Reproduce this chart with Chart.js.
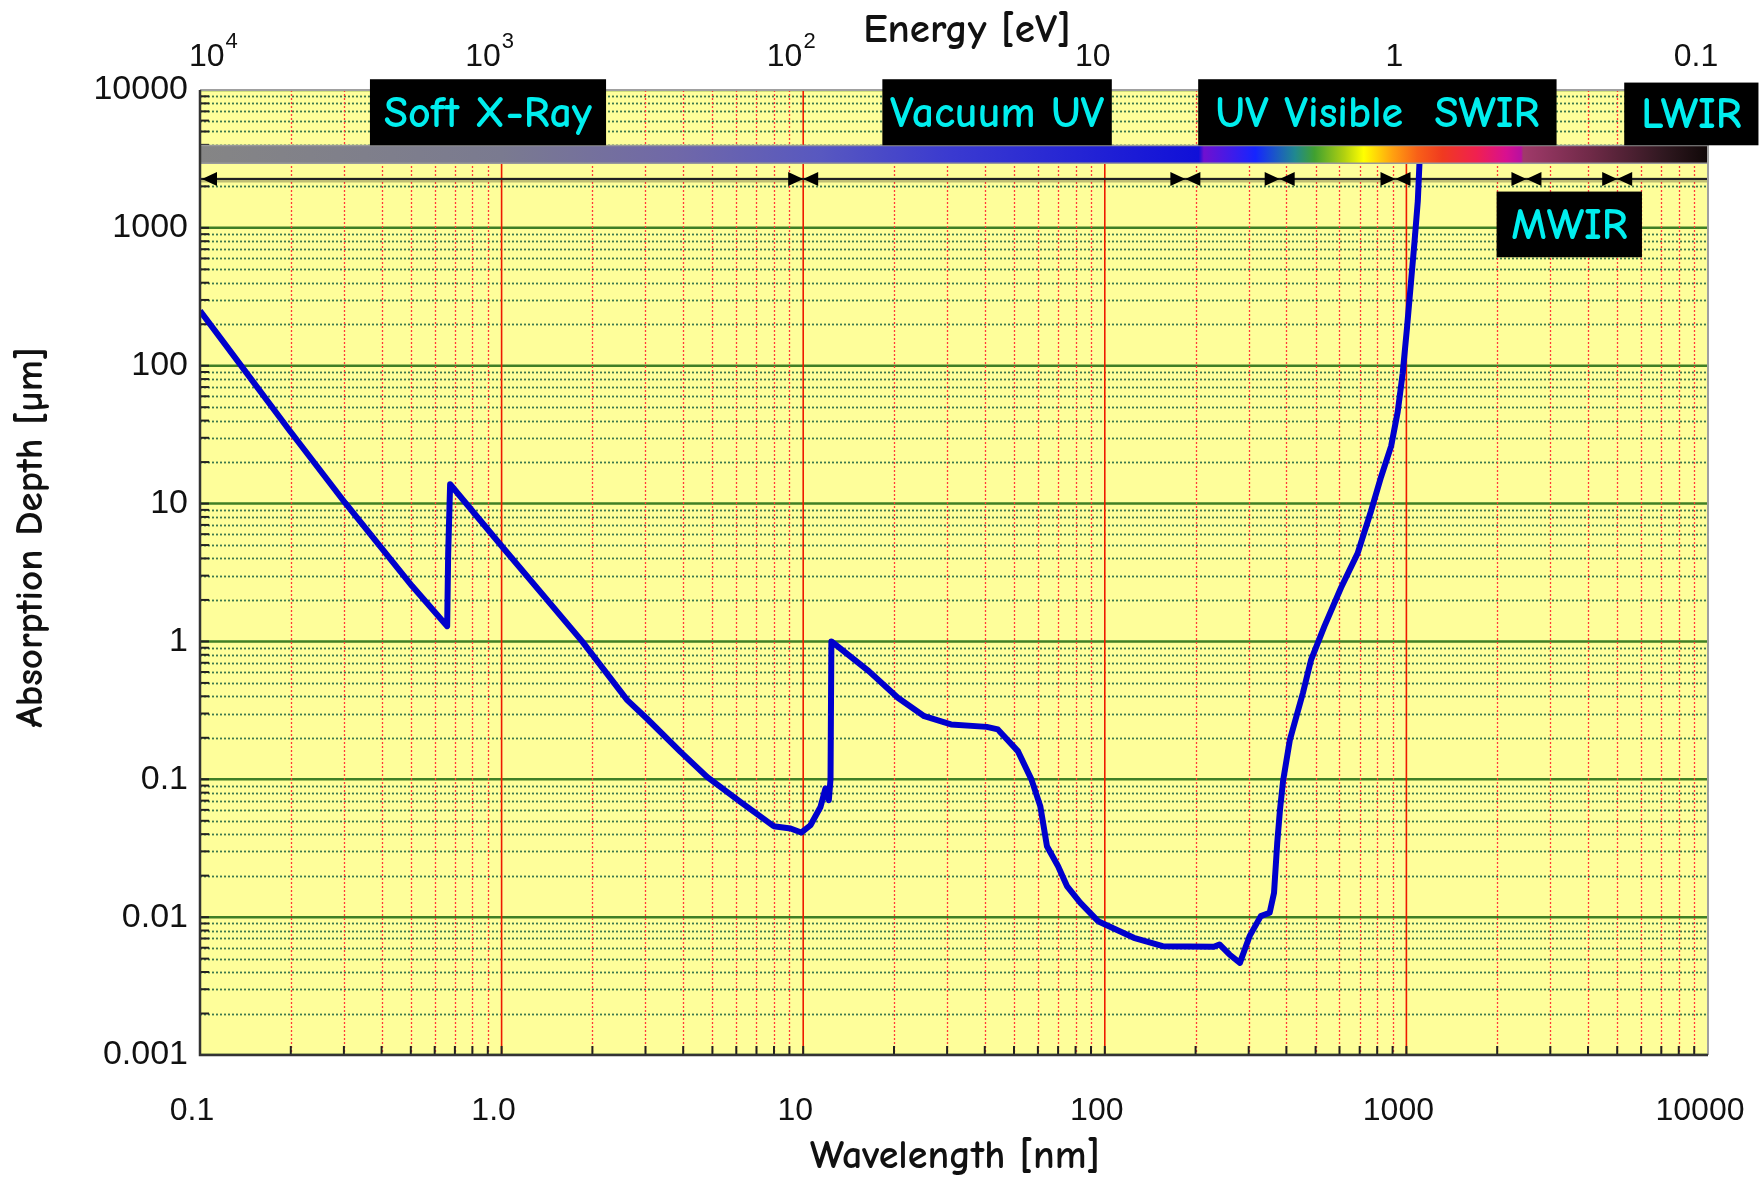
<!DOCTYPE html>
<html lang="en">
<head>
<meta charset="UTF-8">
<title>Silicon absorption depth</title>
<script src="https://cdn.jsdelivr.net/npm/chart.js@4"></script>
<style>
html, body { margin: 0; padding: 0; background: #fff; }
#wrap { width: 1763px; height: 1181px; }
</style>
</head>
<body>
<div id="wrap"><canvas id="depthChart" width="1763" height="1181"></canvas></div>
<script>
// absorption depth curve
const wavelengthNm = [0.1, 0.12, 0.197, 0.303, 0.505, 0.66, 0.665, 0.675,
  1.0, 1.85, 2.61, 3.03, 3.92, 4.80, 6.19, 7.98, 9.08, 9.85,
  10.57, 11.41, 11.85, 12.16, 12.32, 12.4,
  16.5, 20.6, 25.2, 30.9, 40.6, 44.2, 51.5, 57.1, 61.1, 64.3,
  70, 74.9, 83, 95, 124.8, 155.6, 230, 240, 259, 280.5,
  302, 329, 352, 364, 373, 381, 390, 411, 454, 483,
  535, 607, 689, 763, 824, 890, 936, 972, 1005, 1036,
  1063, 1091, 1105, 1112];
const depthUm = [250, 147, 34.5, 10.1, 2.52, 1.29, 4.3, 13.8,
  4.92, 1.0, 0.375, 0.276, 0.158, 0.104, 0.0685, 0.0457, 0.044, 0.0411,
  0.0464, 0.063, 0.0858, 0.0705, 0.1, 1.0,
  0.609, 0.390, 0.287, 0.250, 0.240, 0.230, 0.160, 0.0998, 0.0639, 0.0327,
  0.0234, 0.0168, 0.0127, 0.00935, 0.00708, 0.00616, 0.0061, 0.00634, 0.00536, 0.00466,
  0.00728, 0.01017, 0.01075, 0.0150, 0.0346, 0.0604, 0.097, 0.194, 0.424, 0.735,
  1.29, 2.45, 4.35, 8.8, 15.6, 26.1, 46.4, 88, 190, 408,
  774, 1565, 2965, 5000];

const xTicks = [0.1, 1, 10, 100, 1000, 10000];
const xTickLabels = ['0.1', '1.0', '10', '100', '1000', '10000'];
// energy axis on top: base and superscript of each label
const energyTickBase = ['10', '10', '10', '10', '1', '0.1'];
const energyTickExp = ['4', '3', '2', '', '', ''];
const yTicks = [0.001, 0.01, 0.1, 1, 10, 100, 1000, 10000];
const yTickLabels = ['0.001', '0.01', '0.1', '1', '10', '100', '1000', '10000'];

// black region tags: name, x range in nm, y range in um
const bandNames = ['Soft X-Ray', 'Vacuum UV', 'UV Visible  SWIR', 'LWIR', 'MWIR'];
const bandFrom = [0.366, 18.3, 204, 5275, 1991];
const bandTo = [2.22, 105.5, 3147, 14700, 6040];
const bandTop = [11970, 11970, 11970, 11320, 1833];
const bandBottom = [3972, 3972, 3972, 3972, 612];

// region limits marked with arrows
const regionEdges = [0.1, 10, 185, 380, 920, 2500, 5000, 10000];
const arrowRowUm = 2265;

// colour strip under the tags
const stripStopsNm = [0.1, 1, 3.8, 11.4, 30.8, 205, 213, 316, 427, 496, 621, 722, 903, 1089, 1315, 1710, 2142, 2400, 2440, 4056, 7110, 9950];
const stripColors = ['#858585', '#7a7a90', '#7068a8', '#5858c0', '#3a3ad0', '#1010d8', '#7010d0', '#1525ff', '#208890', '#40a030', '#b0d010', '#ffff00', '#ffa010', '#f86018', '#f03a20', '#f02050', '#d81090', '#b810a0', '#a03a6a', '#702a48', '#301820', '#100808'];
const stripTopUm = 3950;
const stripBottomUm = 2944;

const titleFont = "'Comic Sans MS', 'Comic Neue', 'DejaVu Sans', sans-serif";
const tickFont = "'Liberation Sans', Arial, sans-serif";

function decadeLines(ticks) {
  // values 1..9 x 10^n inside the axis range
  var major = [], minor = [];
  for (var i = 0; i < ticks.length; i++) {
    major.push(ticks[i]);
    if (i < ticks.length - 1) {
      for (var m = 2; m <= 9; m++) minor.push(ticks[i] * m);
    }
  }
  return { major: major, minor: minor };
}

const paperPlugin = {
  id: 'paper',
  beforeDraw(chart) {
    const ctx = chart.ctx, a = chart.chartArea;
    ctx.save();
    ctx.fillStyle = '#ffffff';
    ctx.fillRect(0, 0, chart.width, chart.height);
    ctx.fillStyle = '#fefe9a';
    ctx.fillRect(a.left, a.top, a.right - a.left, a.bottom - a.top);
    ctx.restore();
  },
  beforeDatasetsDraw(chart) {
    const ctx = chart.ctx, a = chart.chartArea;
    const x = chart.scales.x, y = chart.scales.y;
    const xl = decadeLines(xTicks), yl = decadeLines(yTicks);
    ctx.save();
    ctx.beginPath();
    ctx.rect(a.left, a.top, a.right - a.left, a.bottom - a.top);
    ctx.clip();

    // horizontal grid
    ctx.setLineDash([2, 2]);
    ctx.strokeStyle = 'rgba(40,105,70,0.9)';
    ctx.lineWidth = 1.8;
    yl.minor.forEach(function (v) {
      const py = Math.round(y.getPixelForValue(v)) + 0.5;
      ctx.beginPath(); ctx.moveTo(a.left, py); ctx.lineTo(a.right, py); ctx.stroke();
    });
    ctx.setLineDash([]);
    ctx.strokeStyle = '#3f7f25';
    ctx.lineWidth = 2.5;
    yl.major.forEach(function (v) {
      const py = y.getPixelForValue(v);
      ctx.beginPath(); ctx.moveTo(a.left, py); ctx.lineTo(a.right, py); ctx.stroke();
    });

    // vertical grid
    ctx.setLineDash([2, 2]);
    ctx.strokeStyle = '#ff3a3a';
    ctx.lineWidth = 1.3;
    xl.minor.forEach(function (v) {
      const px = Math.round(x.getPixelForValue(v)) + 0.5;
      ctx.beginPath(); ctx.moveTo(px, a.top); ctx.lineTo(px, a.bottom); ctx.stroke();
    });
    ctx.setLineDash([]);
    ctx.strokeStyle = '#ee1a00';
    ctx.lineWidth = 1.6;
    xl.major.forEach(function (v) {
      const px = x.getPixelForValue(v);
      ctx.beginPath(); ctx.moveTo(px, a.top); ctx.lineTo(px, a.bottom); ctx.stroke();
    });

    // inner tick marks
    ctx.strokeStyle = '#222';
    ctx.lineWidth = 2;
    yl.major.concat(yl.minor).forEach(function (v) {
      const py = y.getPixelForValue(v);
      ctx.beginPath(); ctx.moveTo(a.left, py); ctx.lineTo(a.left + 9, py); ctx.stroke();
    });
    xl.major.concat(xl.minor).forEach(function (v) {
      const px = x.getPixelForValue(v);
      ctx.beginPath(); ctx.moveTo(px, a.bottom); ctx.lineTo(px, a.bottom - 9); ctx.stroke();
    });

    // region arrows
    const row = y.getPixelForValue(arrowRowUm);
    ctx.strokeStyle = 'rgba(0,0,0,0.25)';
    ctx.lineWidth = 5;
    ctx.beginPath(); ctx.moveTo(x.getPixelForValue(regionEdges[0]), row + 1);
    ctx.lineTo(x.getPixelForValue(regionEdges[regionEdges.length - 1]), row + 1); ctx.stroke();
    ctx.strokeStyle = '#222';
    ctx.lineWidth = 2;
    ctx.beginPath(); ctx.moveTo(x.getPixelForValue(regionEdges[0]), row);
    ctx.lineTo(x.getPixelForValue(regionEdges[regionEdges.length - 1]), row); ctx.stroke();
    ctx.fillStyle = '#000';
    function head(px, dir) {
      ctx.beginPath();
      ctx.moveTo(px, row);
      ctx.lineTo(px - dir * 15, row - 7);
      ctx.lineTo(px - dir * 15, row + 7);
      ctx.closePath();
      ctx.fill();
    }
    regionEdges.forEach(function (v, i) {
      const px = x.getPixelForValue(v);
      if (i === 0) { head(px + 2, -1); return; }
      if (i === regionEdges.length - 1) return;
      head(px, 1);
      head(px, -1);
    });
    ctx.restore();
  },
  afterDatasetsDraw(chart) {
    const ctx = chart.ctx, a = chart.chartArea;
    const x = chart.scales.x, y = chart.scales.y, top = chart.scales.xTop;
    ctx.save();

    // colour strip
    const x0 = x.getPixelForValue(xTicks[0]), x1 = x.getPixelForValue(xTicks[xTicks.length - 1]);
    const sTop = y.getPixelForValue(stripTopUm), sBot = y.getPixelForValue(stripBottomUm);
    const grad = ctx.createLinearGradient(x0, 0, x1, 0);
    stripStopsNm.forEach(function (v, i) {
      const f = (x.getPixelForValue(v) - x0) / (x1 - x0);
      grad.addColorStop(Math.min(1, Math.max(0, f)), stripColors[i]);
    });
    ctx.fillStyle = grad;
    ctx.fillRect(x0, sTop, x1 - x0, sBot - sTop);
    ctx.strokeStyle = '#999';
    ctx.lineWidth = 1.5;
    ctx.beginPath();
    ctx.moveTo(x0, sTop); ctx.lineTo(x1, sTop);
    ctx.moveTo(x0, sBot); ctx.lineTo(x1, sBot);
    ctx.stroke();

    // frame
    ctx.strokeStyle = '#a0a0a0';
    ctx.lineWidth = 2;
    ctx.beginPath();
    ctx.moveTo(a.left, a.top); ctx.lineTo(a.right, a.top); ctx.lineTo(a.right, a.bottom);
    ctx.stroke();
    ctx.strokeStyle = '#333';
    ctx.lineWidth = 2.5;
    ctx.beginPath();
    ctx.moveTo(a.left, a.top); ctx.lineTo(a.left, a.bottom); ctx.lineTo(a.right, a.bottom);
    ctx.stroke();

    // region tags
    ctx.font = 'bold 44px ' + titleFont;
    ctx.textAlign = 'center';
    ctx.textBaseline = 'middle';
    bandNames.forEach(function (name, i) {
      const bx0 = x.getPixelForValue(bandFrom[i]), bx1 = x.getPixelForValue(bandTo[i]);
      const by0 = y.getPixelForValue(bandTop[i]), by1 = y.getPixelForValue(bandBottom[i]);
      ctx.fillStyle = '#000';
      ctx.fillRect(bx0, by0, bx1 - bx0, by1 - by0);
      ctx.fillStyle = '#00eeee';
      ctx.fillText(name, (bx0 + bx1) / 2, (by0 + by1) / 2 + 2);
    });

    // energy labels with real superscripts
    ctx.fillStyle = '#111';
    ctx.textAlign = 'left';
    ctx.textBaseline = 'alphabetic';
    xTicks.forEach(function (v, i) {
      ctx.font = '32px ' + tickFont;
      const wb = ctx.measureText(energyTickBase[i]).width;
      ctx.font = '22px ' + tickFont;
      const we = energyTickExp[i] ? ctx.measureText(energyTickExp[i]).width + 1 : 0;
      let cx = top.getPixelForValue(v) - 12;
      cx = Math.max(cx, a.left - 11 + (wb + we) / 2);
      const lx = cx - (wb + we) / 2;
      ctx.font = '32px ' + tickFont;
      ctx.fillText(energyTickBase[i], lx, 66);
      if (we) {
        ctx.font = '22px ' + tickFont;
        ctx.fillText(energyTickExp[i], lx + wb + 1, 48);
      }
    });

    // axis titles
    ctx.textAlign = 'center';
    ctx.textBaseline = 'middle';
    ctx.font = 'bold 41px ' + titleFont;
    ctx.fillText('Energy [eV]', (a.left + a.right) / 2 + 13, 30);
    ctx.font = 'bold 40px ' + titleFont;
    ctx.fillText('Wavelength [nm]', (a.left + a.right) / 2 + 1, 1157);
    ctx.font = 'bold 39px ' + titleFont;
    ctx.translate(31, (a.top + a.bottom) / 2 - 35);
    ctx.rotate(-Math.PI / 2);
    ctx.fillText('Absorption Depth [\u00b5m]', 0, 0);
    ctx.restore();
  }
};

const ctx = document.getElementById('depthChart');
new Chart(ctx, {
  type: 'line',
  data: {
    datasets: [{
      data: wavelengthNm.map(function (w, i) { return { x: w, y: depthUm[i] }; }),
      borderColor: '#0000cc',
      borderWidth: 6,
      borderJoinStyle: 'round',
      pointRadius: 0,
      tension: 0,
      fill: false
    }]
  },
  options: {
    responsive: false,
    animation: false,
    layout: { padding: { left: 0, right: 55, top: 0, bottom: 0 } },
    plugins: { legend: { display: false }, tooltip: { enabled: false } },
    scales: {
      x: {
        type: 'logarithmic', position: 'bottom', min: 0.1, max: 10000,
        grid: { display: false, drawTicks: false }, border: { display: false },
        afterBuildTicks: function (s) { s.ticks = xTicks.map(function (v) { return { value: v }; }); },
        afterFit: function (s) { s.height = 126; s.paddingLeft = 0; s.paddingRight = 0; },
        ticks: {
          autoSkip: false, maxRotation: 0, padding: 37, labelOffset: -8,
          color: '#111', font: { family: tickFont, size: 32 },
          callback: function (v, i) { return xTickLabels[i]; }
        }
      },
      xTop: {
        type: 'logarithmic', position: 'top', min: 0.1, max: 10000,
        grid: { display: false, drawTicks: false }, border: { display: false },
        afterBuildTicks: function (s) { s.ticks = xTicks.map(function (v) { return { value: v }; }); },
        afterFit: function (s) { s.height = 90; s.paddingLeft = 0; s.paddingRight = 0; },
        ticks: { display: false }
      },
      y: {
        type: 'logarithmic', min: 0.001, max: 10000,
        grid: { display: false, drawTicks: false }, border: { display: false },
        afterBuildTicks: function (s) { s.ticks = yTicks.map(function (v) { return { value: v }; }); },
        afterFit: function (s) { s.width = 200; s.paddingTop = 0; s.paddingBottom = 0; },
        ticks: {
          autoSkip: false, padding: 12,
          color: '#111', font: { family: tickFont, size: 34 },
          callback: function (v, i) { return yTickLabels[i]; }
        }
      }
    }
  },
  plugins: [paperPlugin]
});
</script>
</body>
</html>
